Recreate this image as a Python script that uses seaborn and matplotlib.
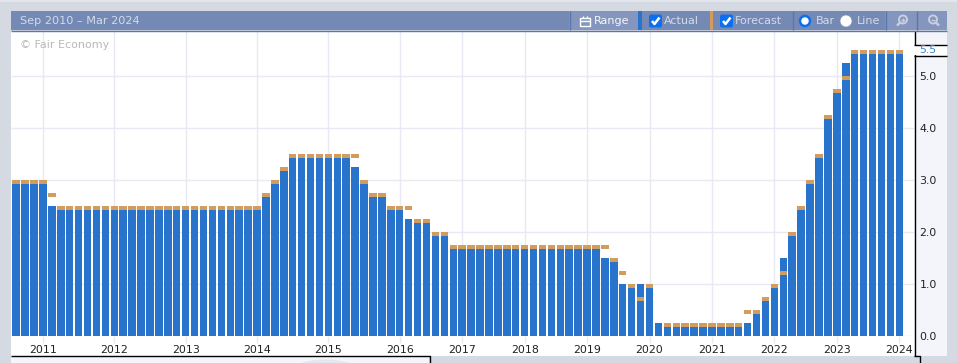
# plot.py - policy rate bars, actual vs forecast, inside a widget style frame

import numpy as np
import matplotlib
matplotlib.use("Agg")
import matplotlib.pyplot as plt
from matplotlib.patches import Rectangle, Circle, Ellipse, FancyBboxPatch
import seaborn as sns

# one value per meeting
actual = [3.0, 3.0, 3.0, 3.0, 2.5] + [2.5] * 23 + [
    2.75, 3.0, 3.25] + [3.5] * 7 + [3.25, 3.0, 2.75, 2.75, 2.5, 2.5, 2.25, 2.25, 2.25, 2.0, 2.0] + [
    1.75] * 17 + [1.5, 1.5, 1.0, 1.0, 1.0, 1.0, 0.25] + [0.25] * 9 + [
    0.25, 0.5, 0.75, 1.0, 1.5, 2.0, 2.5, 3.0, 3.5, 4.25, 4.75, 5.25] + [5.5] * 6
forecast = [3.0, 3.0, 3.0, 3.0, 2.75] + [2.5] * 23 + [
    2.75, 3.0, 3.25] + [3.5] * 8 + [3.0, 2.75, 2.75, 2.5, 2.5, 2.5, 2.25, 2.25, 2.0, 2.0] + [
    1.75] * 18 + [1.5, 1.25, 1.0, 0.75, 1.0, np.nan] + [0.25] * 9 + [
    0.5, 0.5, 0.75, 1.0, 1.25, 2.0, 2.5, 3.0, 3.5, 4.25, 4.75, 5.0] + [5.5] * 6
meeting = list(range(len(actual)))

year_labels = ["2011", "2012", "2013", "2014", "2015", "2016", "2017", "2018",
               "2019", "2020", "2021", "2022", "2023", "2024"]
year_ticks = [3, 11, 19, 27, 35, 43, 50, 57, 64, 71, 78, 85, 92, 99]
rate_ticks = [0, 1, 2, 3, 4, 5]

W, H = 957, 363
BLUE = "#2874cd"
ORANGE = "#d29c5e"
GRID = "#e8e9f2"
FRAME = "#d5d9e2"
PANEL = "#f4f5fa"
HEAD = "#7589b5"
HEADLT = "#8496bd"
SEP = "#5a76b0"
HEADTXT = "#d3dbea"
CAP = 0.08
BARW = 0.84
ZERO = 335.6   # pixel row of the zero line

sns.set_theme(style="white")
plt.rcParams["font.family"] = ["DejaVu Sans"]
plt.rcParams["lines.solid_capstyle"] = "butt"

fig = plt.figure(figsize=(W / 100, H / 100), dpi=100, facecolor=FRAME)

# layer below the chart, pixel coords
bg = fig.add_axes([0, 0, 1, 1], zorder=0)
bg.set_xlim(0, W)
bg.set_ylim(H, 0)
bg.axis("off")
bg.add_patch(Rectangle((11, 31), 903, 325, fc="white", ec="none"))
bg.add_patch(Rectangle((11, 356), 418, 7, fc=PANEL, ec="none"))
bg.add_patch(Ellipse((325, 373), 70, 27, fc="#e4e7ee", ec="none"))
bg.add_patch(Rectangle((914, 31), 33, 325, fc=PANEL, ec="none"))
bg.plot([11, 429.5, 429.5], [356, 356, 363], color="black", lw=1)
bg.plot([914, 919.5, 919.5], [356, 356, 363], color="black", lw=1)
bg.plot([914.5, 914.5], [31, 356], color="black", lw=1)

# main chart, its bottom edge sits on the zero line
ax = fig.add_axes([11 / W, 1 - ZERO / H, 903 / W, (ZERO - 31) / H], zorder=1)
ax.patch.set_alpha(0)
sns.barplot(x=meeting, y=actual, color=BLUE, saturation=1, width=BARW, native_scale=True,
            linewidth=0, ax=ax, zorder=3)
ax.bar(meeting, [CAP] * len(meeting), bottom=np.array(forecast) - CAP, width=BARW,
       color=ORANGE, linewidth=0, zorder=4)

ax.set_xlim(-0.58, 100.65)
ax.set_ylim(0, 5.869)
ax.set_xticks(year_ticks)
ax.set_xticklabels(year_labels)
ax.set_yticks(rate_ticks)
ax.set_yticklabels(["%.1f" % v for v in rate_ticks])
ax.yaxis.tick_right()
ax.tick_params(axis="x", bottom=True, length=5, width=1, color=GRID, labelsize=7.9,
               labelcolor="#222222", pad=1.5)
ax.tick_params(axis="y", length=0, labelsize=7.9, labelcolor="#222222", pad=4)
ax.set_xlabel("")
ax.set_ylabel("")
ax.grid(True, color=GRID, lw=1)
ax.set_axisbelow(True)
for s in ax.spines.values():
    s.set_visible(False)

ax.text(0.0105, 0.955, "© Fair Economy", transform=ax.transAxes, fontsize=8,
        color="#b9b9b9", va="center", ha="left", zorder=6)

# layer on top: header and the gap round the 5.5 label
top = fig.add_axes([0, 0, 1, 1], zorder=2)
top.set_xlim(0, W)
top.set_ylim(H, 0)
top.axis("off")
top.patch.set_alpha(0)
top.add_patch(Rectangle((0, 0), W, 1.5, fc="#e2e5ec", ec="none"))
top.add_patch(Rectangle((11, 11), 936, 19, fc=HEAD, ec="none"))
top.add_patch(Rectangle((569, 11), 69, 19, fc=HEADLT, ec="none"))
top.add_patch(Rectangle((885, 11), 62, 19, fc=HEADLT, ec="none"))
top.plot([11, 947], [30.5, 30.5], color=SEP, lw=1)
top.add_patch(Rectangle((912.5, 45), 34.5, 10, fc="white", ec="none"))
top.plot([914, 947], [44.5, 44.5], color="black", lw=1)
top.plot([914, 947], [55.5, 55.5], color="black", lw=1)
top.text(928, 50, "5.5", color="#3f83cc", fontsize=7.9, ha="center", va="center")

top.text(20, 20.7, "Sep 2010 – Mar 2024", color=HEADTXT, fontsize=8.1, va="center")
top.text(594, 21, "Range", color="white", fontsize=8, va="center", alpha=0.92)
top.text(664, 21, "Actual", color=HEADTXT, fontsize=8, va="center")
top.text(735, 21, "Forecast", color=HEADTXT, fontsize=8, va="center")
top.text(816, 21, "Bar", color=HEADTXT, fontsize=8, va="center")
top.text(857, 21, "Line", color=HEADTXT, fontsize=8, va="center")

# separators and the colour swatches
for x in [569.5, 792.5, 885.5, 916.5]:
    top.plot([x, x], [11, 30], color=SEP, lw=1)
top.add_patch(Rectangle((638, 11), 4, 19, fc=BLUE, ec="none"))
top.add_patch(Rectangle((710, 11), 3, 19, fc=ORANGE, ec="none"))

# check boxes
for x in [649, 720]:
    top.add_patch(FancyBboxPatch((x, 14.5), 13, 13, boxstyle="round,pad=0,rounding_size=2",
                                 fc="#0b6ff0", ec="none"))
    top.plot([x + 3, x + 5.5, x + 10.5], [21, 24, 17.5], color="white", lw=1.8)

# radio buttons
top.add_patch(Circle((805, 21), 5, fc="white", ec="#0b6ff0", lw=1.8))
top.add_patch(Circle((846, 21), 6, fc="white", ec="#8a8f9c", lw=0.5))

# calendar icon
top.add_patch(Rectangle((579.5, 18), 10.5, 7.5, fc="none", ec="white", lw=1))
top.plot([579.5, 590], [21, 21], color="white", lw=1)
top.plot([582.5, 582.5], [15.5, 18], color="white", lw=1)
top.plot([587, 587], [15.5, 18], color="white", lw=1)

# zoom icons, plus and minus
for cx, tail in [(903, -1), (933, 1)]:
    top.add_patch(Circle((cx, 19.5), 4, fc="none", ec="#c8d0e0", lw=1.4))
    top.plot([cx + tail * 2.8, cx + tail * 6], [22.5, 25.5], color="#c8d0e0", lw=1.8)
    top.plot([cx - 2, cx + 2], [19.5, 19.5], color="#c8d0e0", lw=1)
top.plot([903, 903], [17.5, 21.5], color="#c8d0e0", lw=1)

fig.savefig("out.png", dpi=100, facecolor=FRAME)
